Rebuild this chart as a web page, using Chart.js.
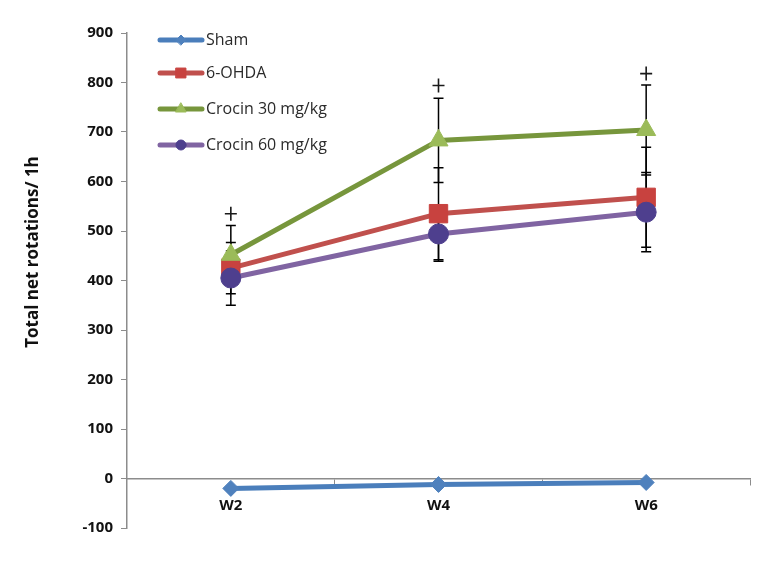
<!DOCTYPE html>
<html>
<head>
<meta charset="utf-8">
<script src="https://cdn.jsdelivr.net/npm/chart.js@4.4.1/dist/chart.umd.min.js"></script>
<style>
  html, body { margin: 0; padding: 0; background: #fff; }
  #wrap { width: 782px; height: 561px; position: relative; }
</style>
</head>
<body>
<div id="wrap"><canvas id="chart"></canvas></div>
<script>
// valeurs
const weeks = ['W2', 'W4', 'W6'];
const yTicks = [-100, 0, 100, 200, 300, 400, 500, 600, 700, 800, 900];

const shamValues = [-20, -12, -8];
const ohdaValues = [425, 535, 568];
const crocin30Values = [452, 683, 704];
const crocin60Values = [405, 494, 538];

const shamErr = [0, 0, 0];
const ohdaErr = [52, 93, 101];
const crocin30Err = [59, 85, 91];
const crocin60Err = [55, 55, 80];

// signes "+" au-dessus des barres
const plusMarks = [535, 794, 818];

const SERIES = [
  { label: 'Sham', data: shamValues, err: shamErr, line: '#4a7ebb', fill: '#4f81bd', style: 'rectRot', radius: 8, legendRadius: 5 },
  { label: '6-OHDA', data: ohdaValues, err: ohdaErr, line: '#c0504d', fill: '#c8423f', style: 'rect', radius: 13, legendRadius: 7 },
  { label: 'Crocin 30 mg/kg', data: crocin30Values, err: crocin30Err, line: '#77963c', fill: '#9bbb59', style: 'triangle', radius: 11, legendRadius: 6 },
  { label: 'Crocin 60 mg/kg', data: crocin60Values, err: crocin60Err, line: '#8064a2', fill: '#4e3f8e', style: 'circle', radius: 10, legendRadius: 5 }
];

const FONT = '"Open Sans", "Liberation Sans", sans-serif';

const errorBars = {
  id: 'errorBars',
  beforeDatasetsDraw(chart) {
    const { ctx } = chart;
    const y = chart.scales.y;
    ctx.save();
    ctx.strokeStyle = '#000';
    ctx.lineWidth = 1.5;
    chart.data.datasets.forEach((ds, i) => {
      const meta = chart.getDatasetMeta(i);
      meta.data.forEach((pt, j) => {
        const e = ds.err[j];
        if (!e) return;
        const top = y.getPixelForValue(ds.data[j] + e);
        const bot = y.getPixelForValue(ds.data[j] - e);
        ctx.beginPath();
        ctx.moveTo(pt.x, top); ctx.lineTo(pt.x, bot);
        ctx.moveTo(pt.x - 5, top); ctx.lineTo(pt.x + 5, top);
        ctx.moveTo(pt.x - 5, bot); ctx.lineTo(pt.x + 5, bot);
        ctx.stroke();
      });
    });
    ctx.restore();
  },
  afterDraw(chart) {
    const { ctx, chartArea } = chart;
    const x = chart.scales.x;
    const y = chart.scales.y;
    ctx.save();
    // signes +
    ctx.strokeStyle = '#1a1a1a';
    ctx.lineWidth = 1.6;
    plusMarks.forEach((v, j) => {
      const px = x.getPixelForValue(j);
      const py = y.getPixelForValue(v);
      ctx.beginPath();
      ctx.moveTo(px - 6, py); ctx.lineTo(px + 6, py);
      ctx.moveTo(px, py - 7); ctx.lineTo(px, py + 7);
      ctx.stroke();
    });
    // titre de l'axe Y
    ctx.translate(33, 252);
    ctx.rotate(-Math.PI / 2);
    ctx.font = `bold 17px ${FONT}`;
    ctx.fillStyle = '#111';
    ctx.textAlign = 'center';
    ctx.textBaseline = 'middle';
    ctx.fillText('Total net rotations/ 1h', 0, 0);
    ctx.restore();

    // légende dans la zone de tracé
    ctx.save();
    const legendY = [40, 73, 109, 145];
    const lx = chartArea.left + 33;
    ctx.font = `16px ${FONT}`;
    ctx.textBaseline = 'middle';
    ctx.textAlign = 'left';
    SERIES.forEach((s, i) => {
      const ly = legendY[i];
      ctx.strokeStyle = s.line;
      ctx.lineWidth = 5;
      ctx.lineCap = 'round';
      ctx.beginPath();
      ctx.moveTo(lx, ly); ctx.lineTo(lx + 42, ly);
      ctx.stroke();
      ctx.fillStyle = s.fill;
      ctx.strokeStyle = s.fill;
      ctx.lineWidth = 1;
      Chart.helpers.drawPoint(ctx, {
        pointStyle: s.style, radius: s.legendRadius, rotation: 0, borderWidth: 1
      }, lx + 21, ly);
      ctx.fillStyle = '#2a2a2a';
      ctx.fillText(s.label, lx + 46, ly);
    });
    ctx.restore();
  }
};

new Chart(document.getElementById('chart'), {
  type: 'line',
  data: {
    labels: weeks,
    datasets: SERIES.map((s) => ({
      label: s.label,
      data: s.data,
      err: s.err,
      borderColor: s.line,
      borderWidth: 5,
      backgroundColor: s.fill,
      pointBackgroundColor: s.fill,
      pointBorderColor: s.fill,
      pointBorderWidth: 1,
      pointStyle: s.style,
      pointRadius: s.radius,
      tension: 0,
      fill: false
    })).reverse()
  },
  options: {
    responsive: true,
    maintainAspectRatio: false,
    animation: false,
    layout: { padding: { top: 33, bottom: 33, right: 32, left: 0 } },
    plugins: {
      legend: { display: false },
      tooltip: { enabled: false }
    },
    scales: {
      x: {
        position: { y: 0 },
        offset: true,
        grid: {
          offset: true,
          drawOnChartArea: false,
          drawTicks: true,
          tickLength: 6,
          color: '#8c8c8c'
        },
        border: { color: '#8c8c8c', width: 1.5 },
        ticks: {
          color: '#111',
          font: { family: FONT, size: 15, weight: 'bold' },
          padding: 12
        }
      },
      y: {
        min: -100,
        max: 900,
        afterFit(scale) { scale.width = 127; },
        afterBuildTicks(scale) { scale.ticks = yTicks.map((v) => ({ value: v })); },
        grid: {
          drawOnChartArea: false,
          tickLength: 6,
          color: '#8c8c8c'
        },
        border: { color: '#8c8c8c', width: 1.5 },
        ticks: {
          color: '#111',
          font: { family: FONT, size: 15, weight: 'bold' },
          padding: 8
        }
      }
    }
  },
  plugins: [errorBars]
});
</script>
</body>
</html>
